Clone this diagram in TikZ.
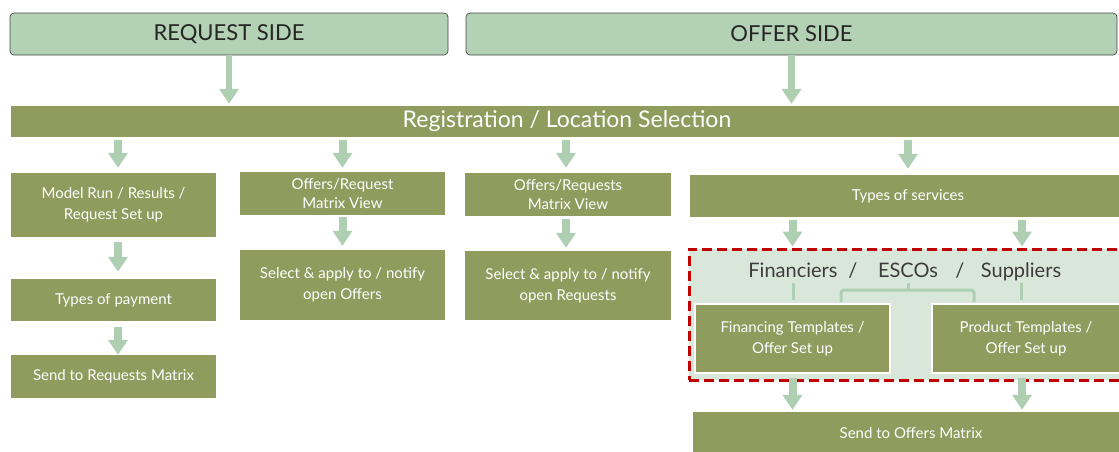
\documentclass[tikz,border=0pt]{standalone}
\usepackage{fontspec}
\setmainfont{Lato}
\usetikzlibrary{arrows.meta,positioning}

\definecolor{boxolive}{HTML}{8F9C5E}
\definecolor{headgreen}{HTML}{B3D1B5}
\definecolor{arrowgreen}{HTML}{AFCFB3}
\definecolor{panelgreen}{HTML}{D9E7DB}
\definecolor{dashred}{HTML}{C00000}
\definecolor{darktext}{HTML}{262626}

\begin{document}
\begin{tikzpicture}[x=1pt,y=-1pt,
    side node/.style={rectangle,rounded corners=4pt,draw=darktext!85,line width=0.7pt,fill=headgreen,text=darktext,font=\fontsize{22}{24}\selectfont,minimum height=42pt},
    step node/.style={rectangle,fill=boxolive,text=white,align=center,font=\fontsize{15}{21}\selectfont,minimum width=205pt},
    tmpl node/.style={step node,draw=white,line width=1.5pt},
    group label/.style={anchor=base,text=darktext!90,font=\fontsize{20}{24}\selectfont,inner sep=1pt,text depth=5pt},
    fat arrow/.style={draw=arrowgreen,line width=8pt,-{Triangle[width=19pt,length=15pt]}},
    link line/.style={draw=arrowgreen,line width=3pt}]

    \useasboundingbox (0,0) rectangle (1119,451);
    \clip (0,0) rectangle (1119,451);

    % the two sides
    \node[side node,minimum width=438pt] (req) at (229,34) {REQUEST SIDE};
    \node[side node,minimum width=651pt] (off) at (791.5,34) {OFFER SIDE};

    % common registration bar
    \node[step node,minimum width=1112pt,minimum height=31pt,font=\fontsize{23}{26}\selectfont] (reg) at (567,121.5) {Registration / Location Selection};

    % request column
    \node[step node,minimum height=64pt] (model) at (113.5,205) {Model Run / Results /\\Request Set up};
    \node[step node,minimum height=42pt] (pay) at (113.5,300) {Types of payment};
    \node[step node,minimum height=43pt] (sendreq) at (113.5,376.5) {Send to Requests Matrix};

    % matrix view columns
    \node[step node,minimum height=43pt,font=\fontsize{15}{19}\selectfont] (view1) at (342.5,193.5) {Offers/Request\\Matrix View};
    \node[step node,minimum height=70pt] (sel1) at (342.5,285) {Select \& apply to / notify\\open Offers};
    \node[step node,minimum width=206pt,minimum height=43pt,font=\fontsize{15}{19}\selectfont] (view2) at (568,194.5) {Offers/Requests\\Matrix View};
    \node[step node,minimum width=206pt,minimum height=69pt] (sel2) at (568,285.5) {Select \& apply to / notify\\open Requests};

    % offer column
    \node[step node,minimum width=436pt,minimum height=42pt] (serv) at (908,196) {Types of services};
    \node[draw=dashred,line width=3pt,dash pattern=on 10pt off 5pt,fill=panelgreen,minimum width=441pt,minimum height=131pt] (panel) at (909.5,314.5) {};

    \node[group label] (fin) at (793,277) {Financiers};
    \node[group label] (sl1) at (853,277) {/};
    \node[group label] (esco) at (908,277) {ESCOs};
    \node[group label] (sl2) at (960,277) {/};
    \node[group label] (sup) at (1021,277) {Suppliers};

    \node[tmpl node,minimum width=195pt,minimum height=69pt] (fint) at (792.5,338.5) {Financing Templates /\\Offer Set up};
    \node[tmpl node,minimum width=188pt,minimum height=69pt] (prodt) at (1026,338.5) {Product Templates /\\Offer Set up};
    \node[step node,minimum width=436pt,minimum height=43pt] (sendoff) at (911,433.5) {Send to Offers Matrix};

    % arrows
    \draw[fat arrow,line width=6.5pt,shorten >=2pt] (req) -- (req.south |- reg.north);
    \draw[fat arrow,line width=6.5pt,shorten >=2pt] (off) -- (off.south |- reg.north);
    \draw[fat arrow,shorten <=3pt,shorten >=5pt] ([xshift=4.5pt]model.north |- reg.south) -- ([xshift=4.5pt]model.north);
    \draw[fat arrow,shorten <=5pt,shorten >=7pt] ([xshift=4.5pt]model.south) -- ([xshift=4.5pt]pay.north);
    \draw[fat arrow,shorten <=6pt] ([xshift=4.5pt]pay.south) -- ([xshift=4.5pt]sendreq.north);
    \draw[fat arrow,shorten <=3pt,shorten >=4pt] (view1.north |- reg.south) -- (view1.north);
    \draw[fat arrow,shorten <=2pt,shorten >=4pt] (view1) -- (sel1);
    \draw[fat arrow,shorten <=3pt,shorten >=5pt] ([xshift=-2pt]view2.north |- reg.south) -- ([xshift=-2pt]view2.north);
    \draw[fat arrow,shorten <=3pt,shorten >=3pt] ([xshift=-2pt]view2.south) -- ([xshift=-2pt]sel2.north);
    \draw[fat arrow,shorten <=3pt,shorten >=6pt] (serv.north |- reg.south) -- (serv.north);
    \draw[fat arrow,shorten <=3pt,shorten >=1pt] (fint.north |- serv.south) -- (fint.north |- panel.north);
    \draw[fat arrow,shorten <=3pt,shorten >=1pt] ([xshift=-4pt]prodt.north |- serv.south) -- ([xshift=-4pt]prodt.north |- panel.north);
    \draw[fat arrow,shorten <=4pt,shorten >=2pt] (fint) -- (fint.south |- sendoff.north);
    \draw[fat arrow,shorten <=4pt,shorten >=2pt] ([xshift=-4pt]prodt.south) -- ([xshift=-4pt]prodt.south |- sendoff.north);

    % links from the group names
    \draw[link line,shorten >=3pt] (fin.south) -- (fin.south |- fint.north);
    \draw[link line,shorten >=3pt] (sup.south) -- (sup.south |- prodt.north);
    \draw[link line,rounded corners=3pt] (841,302) |- (esco.south |- 0,290) -| (974,302);
    \draw[link line] (esco.south) -- (esco.south |- 0,290);
\end{tikzpicture}
\end{document}
